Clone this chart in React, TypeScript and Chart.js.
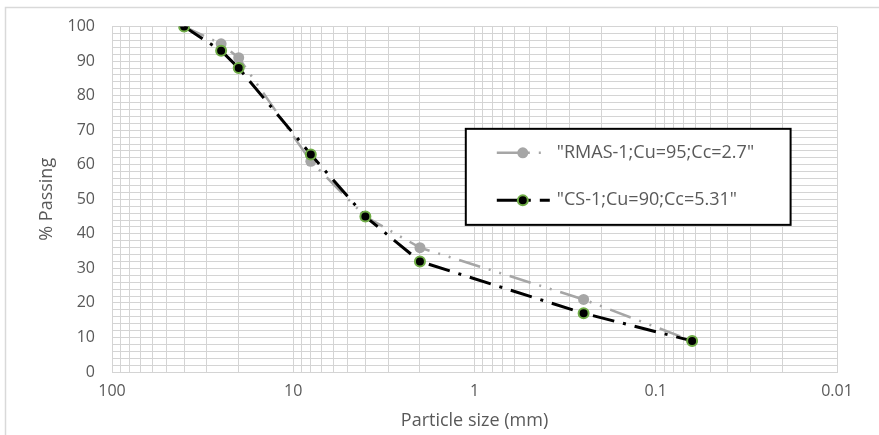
import React, { useEffect, useRef } from 'react';
import { Chart, registerables } from 'chart.js';

Chart.register(...registerables);

// ---- data ----
const particleSizes = [40, 25, 20, 8, 4, 2, 0.25, 0.063];
const rmasPassing = [100, 95, 91, 61, 45, 36, 21, 9];
const csPassing = [100, 93, 88, 63, 45, 32, 17, 9];
const seriesLabels = ['"RMAS-1;Cu=95;Cc=2.7"', '"CS-1;Cu=90;Cc=5.31"'];
const xDecades = [100, 10, 1, 0.1, 0.01];
const xTickLabels = ['100', '10', '1', '0.1', '0.01'];
const yMajorTicks = [0, 10, 20, 30, 40, 50, 60, 70, 80, 90, 100];
const xTitle = 'Particle size (mm)';
const yTitle = '% Passing';

const FONT = '"Open Sans", "DejaVu Sans", sans-serif';
const TEXT = '#595959';
const GRID = '#d4d4d4';

const frame = {
  id: 'frame',
  beforeDraw(chart: any) {
    const ctx = chart.ctx;
    ctx.save();
    ctx.fillStyle = '#ffffff';
    ctx.fillRect(0, 0, chart.width, chart.height);
    ctx.strokeStyle = '#d9d9d9';
    ctx.lineWidth = 1.5;
    ctx.strokeRect(5.5, 7.5, chart.width + 10, chart.height + 10);
    ctx.restore();
  },
};

const boxLegend = {
  id: 'boxLegend',
  afterDraw(chart: any) {
    const { ctx, chartArea } = chart;
    const w = chartArea.right - chartArea.left;
    const h = chartArea.bottom - chartArea.top;
    const bx = chartArea.left + w * 0.488;
    const by = chartArea.top + h * 0.296;
    const bw = w * 0.448;
    const bh = h * 0.278;
    ctx.save();
    ctx.fillStyle = '#ffffff';
    ctx.fillRect(bx, by, bw, bh);
    ctx.strokeStyle = '#000000';
    ctx.lineWidth = 2;
    ctx.strokeRect(bx, by, bw, bh);
    const rows = [by + bh * 0.25, by + bh * 0.745];
    chart.data.datasets.forEach((ds: any, i: number) => {
      const y = rows[i];
      const x0 = bx + 31;
      const x1 = bx + 84;
      const xm = bx + 57;
      ctx.save();
      ctx.strokeStyle = ds.borderColor;
      ctx.lineWidth = ds.borderWidth;
      ctx.setLineDash(ds.borderDash || []);
      ctx.beginPath();
      ctx.moveTo(x0, y);
      ctx.lineTo(x1, y);
      ctx.stroke();
      ctx.setLineDash([]);
      ctx.beginPath();
      ctx.arc(xm, y, ds.pointRadius, 0, Math.PI * 2);
      ctx.fillStyle = ds.pointBackgroundColor;
      ctx.fill();
      if (ds.pointBorderWidth > 0) {
        ctx.lineWidth = ds.pointBorderWidth;
        ctx.strokeStyle = ds.pointBorderColor;
        ctx.stroke();
      }
      ctx.restore();
      ctx.fillStyle = TEXT;
      ctx.font = `18px ${FONT}`;
      ctx.textBaseline = 'middle';
      ctx.textAlign = 'left';
      ctx.fillText(ds.label, bx + 91, y);
    });
    ctx.restore();
  },
};

function buildXTicks() {
  const ticks: any[] = [];
  for (let i = 0; i < xDecades.length; i++) {
    ticks.push({ value: xDecades[i], major: true });
    if (i < xDecades.length - 1) {
      const low = xDecades[i + 1];
      for (let m = 9; m >= 2; m--) ticks.push({ value: low * m, major: false });
    }
  }
  return ticks;
}

export default function App() {
  const ref = useRef<HTMLCanvasElement>(null);
  useEffect(() => {
    if (!ref.current) return;
    const chart = new Chart(ref.current, {
      type: 'line',
      data: {
        datasets: [
          {
            label: seriesLabels[0],
            data: particleSizes.map((x, i) => ({ x, y: rmasPassing[i] })),
            borderColor: '#a6a6a6',
            backgroundColor: '#a6a6a6',
            pointBackgroundColor: '#a6a6a6',
            pointBorderColor: '#a6a6a6',
            pointBorderWidth: 0,
            pointRadius: 5.5,
            borderWidth: 2.5,
            borderDash: [22, 9, 2, 9, 2, 9],
            tension: 0,
            order: 1,
          } as any,
          {
            label: seriesLabels[1],
            data: particleSizes.map((x, i) => ({ x, y: csPassing[i] })),
            borderColor: '#000000',
            backgroundColor: '#000000',
            pointBackgroundColor: '#000000',
            pointBorderColor: '#70ad47',
            pointBorderWidth: 2,
            pointRadius: 5,
            borderWidth: 3,
            borderDash: [22, 9, 3, 9],
            tension: 0,
            order: 0,
          } as any,
        ],
      },
      options: {
        animation: false,
        responsive: false,
        maintainAspectRatio: false,
        layout: { padding: { top: 25, right: 42, bottom: 0, left: 0 } },
        plugins: { legend: { display: false }, tooltip: { enabled: false } },
        scales: {
          x: {
            type: 'logarithmic',
            reverse: true,
            min: 0.01,
            max: 100,
            afterBuildTicks: (s: any) => {
              s.ticks = buildXTicks();
            },
            afterFit: (s: any) => {
              s.height = 63;
            },
            ticks: {
              autoSkip: false,
              maxRotation: 0,
              padding: 10,
              color: TEXT,
              font: { family: FONT, size: 16 },
              callback: (v: any) => {
                const idx = xDecades.findIndex((d) => Math.abs(d - v) / d < 1e-6);
                return idx >= 0 ? xTickLabels[idx] : '';
              },
            },
            grid: { color: GRID, lineWidth: 1, drawTicks: false },
            border: { color: GRID },
            title: {
              display: true,
              text: xTitle,
              color: TEXT,
              font: { family: FONT, size: 18 },
              padding: { top: 0, bottom: 3 },
            },
          },
          y: {
            type: 'linear',
            min: 0,
            max: 100,
            afterFit: (s: any) => {
              s.width = 112;
            },
            ticks: {
              stepSize: 2,
              autoSkip: false,
              padding: 17,
              color: TEXT,
              font: { family: FONT, size: 16 },
              callback: (v: any) => (yMajorTicks.includes(v) ? String(v) : ''),
            },
            grid: { color: GRID, lineWidth: 1, drawTicks: false },
            border: { color: GRID },
            title: {
              display: true,
              text: yTitle,
              color: TEXT,
              font: { family: FONT, size: 18 },
              padding: { top: 36, bottom: 0 },
            },
          },
        },
      },
      plugins: [frame, boxLegend],
    } as any);
    return () => chart.destroy();
  }, []);
  return (
    <div style={{ position: 'absolute', left: 0, top: 0, width: 879, height: 435 }}>
      <canvas ref={ref} width={879} height={435} style={{ width: 879, height: 435, display: 'block' }} />
    </div>
  );
}
